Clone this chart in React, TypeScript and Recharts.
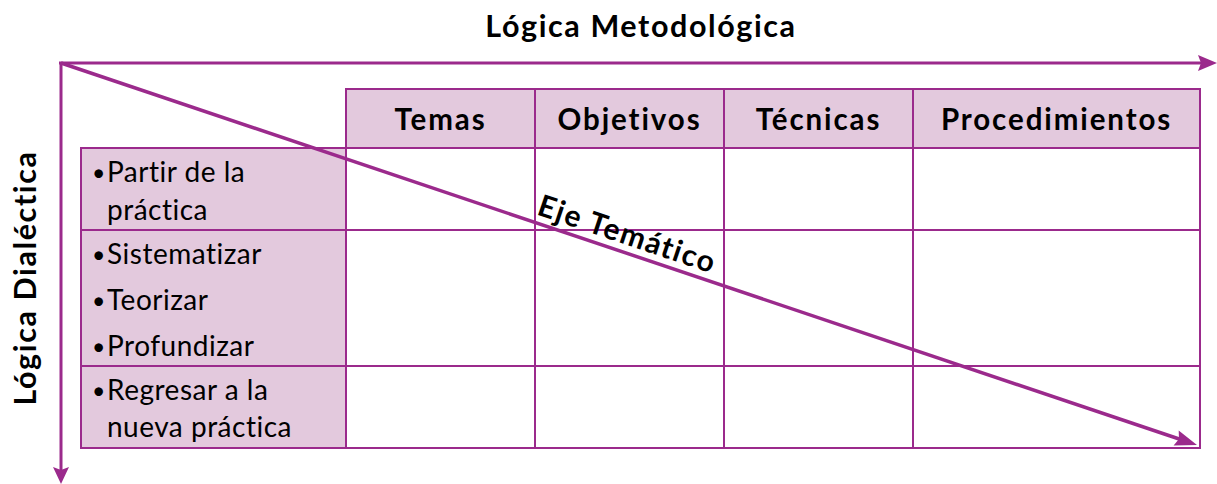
import { ComposedChart, XAxis, YAxis, ReferenceArea, ReferenceLine } from "recharts";

const topTitle = "Lógica Metodológica";
const sideTitle = "Lógica Dialéctica";
const diagonalTitle = "Eje Temático";
const columns = ["Temas", "Objetivos", "Técnicas", "Procedimientos"];
// each stage row: bullets, a bullet may wrap to a second line
const stages = [
  [["Partir de la", "práctica"]],
  [["Sistematizar"], ["Teorizar"], ["Profundizar"]],
  [["Regresar a la", "nueva práctica"]],
];

// layout (pixel space of the drawing)
const W = 1217;
const H = 484;
const colEdges = [81, 346, 535, 724, 913, 1200];
const rowEdges = [89, 148, 230, 366, 448];
const lineGap = [38, 46, 37];
const firstBaseline = 34;
const origin = { x: 61, y: 63 };
const diagEnd = { x: 1197, y: 445 };

const PURPLE = "#9b2a8c";
const FILL = "#e3c9dd";
const FONT = "Lato, 'Open Sans', sans-serif";

function arrowShape(len: number, half: number, width: number) {
  return (p: any) => {
    const { x1, y1, x2, y2 } = p;
    const dx = x2 - x1;
    const dy = y2 - y1;
    const d = Math.hypot(dx, dy) || 1;
    const ux = dx / d;
    const uy = dy / d;
    const bx = x2 - ux * len;
    const by = y2 - uy * len;
    const pts = [
      [x2, y2],
      [bx - uy * half, by + ux * half],
      [bx + ux * 3, by + uy * 3],
      [bx + uy * half, by - ux * half],
    ]
      .map((q) => q.join(","))
      .join(" ");
    return (
      <g>
        <line x1={x1} y1={y1} x2={bx + ux * 4} y2={by + uy * 4} stroke={PURPLE} strokeWidth={width} />
        <polygon points={pts} fill={PURPLE} />
      </g>
    );
  };
}

export default function App() {
  const slope = Math.atan2(diagEnd.y - origin.y, diagEnd.x - origin.x);
  const angle = (slope * 180) / Math.PI;

  return (
    <div style={{ position: "fixed", left: 0, top: 0, width: W, height: H, background: "#fff" }}>
      <ComposedChart width={W} height={H} margin={{ top: 0, right: 0, bottom: 0, left: 0 }}>
        <XAxis type="number" dataKey="x" domain={[0, W]} hide allowDataOverflow />
        <YAxis type="number" domain={[0, H]} reversed hide allowDataOverflow />

        {/* header cells */}
        {columns.map((name, i) => (
          <ReferenceArea
            key={name}
            x1={colEdges[i + 1]}
            x2={colEdges[i + 2]}
            y1={rowEdges[0]}
            y2={rowEdges[1]}
            fill={FILL}
            fillOpacity={1}
            stroke={PURPLE}
            strokeWidth={2}
            ifOverflow="visible"
            label={{
              content: (p: any) => {
                const vb = p.viewBox;
                return (
                  <text
                    x={vb.x + vb.width / 2}
                    y={vb.y + 41}
                    textAnchor="middle"
                    fontFamily={FONT}
                    fontWeight={700}
                    fontSize={29.5}
                    letterSpacing={1.9}
                    fill="#000"
                  >
                    {name}
                  </text>
                );
              },
            }}
          />
        ))}

        {/* stage cells + empty body cells */}
        {stages.map((stage, r) => (
          <ReferenceArea
            key={"s" + r}
            x1={colEdges[0]}
            x2={colEdges[1]}
            y1={rowEdges[r + 1]}
            y2={rowEdges[r + 2]}
            fill={FILL}
            fillOpacity={1}
            stroke={PURPLE}
            strokeWidth={2}
            ifOverflow="visible"
            label={{
              content: (p: any) => {
                const vb = p.viewBox;
                let n = 0;
                const out: any[] = [];
                stage.forEach((item, b) =>
                  item.forEach((line, k) => {
                    const y = vb.y + firstBaseline + lineGap[r] * n++;
                    out.push(
                      <g key={b + "-" + k}>
                        {k === 0 && (
                          <text x={vb.x + 11} y={y - 1} fontFamily={FONT} fontSize={23} fill="#000">
                            •
                          </text>
                        )}
                        <text
                          x={vb.x + 26}
                          y={y}
                          fontFamily={FONT}
                          fontSize={28}
                          letterSpacing={0.5}
                          fill="#000"
                        >
                          {line}
                        </text>
                      </g>
                    );
                  })
                );
                return <g>{out}</g>;
              },
            }}
          />
        ))}
        {stages.map((_, r) =>
          columns.map((c, i) => (
            <ReferenceArea
              key={"c" + r + c}
              x1={colEdges[i + 1]}
              x2={colEdges[i + 2]}
              y1={rowEdges[r + 1]}
              y2={rowEdges[r + 2]}
              fill="none"
              stroke={PURPLE}
              strokeWidth={2}
              ifOverflow="visible"
            />
          ))
        )}

        {/* axes arrows */}
        <ReferenceLine
          segment={[{ x: origin.x - 2, y: origin.y }, { x: W, y: origin.y }]}
          ifOverflow="visible"
          shape={arrowShape(19, 8, 3)}
        />
        <ReferenceLine
          segment={[{ x: origin.x, y: origin.y - 1 }, { x: origin.x, y: H }]}
          ifOverflow="visible"
          shape={arrowShape(17, 8, 3)}
        />
        <ReferenceLine
          segment={[origin, diagEnd]}
          ifOverflow="visible"
          shape={arrowShape(22, 8, 3.5)}
        />

        {/* titles */}
        <ReferenceArea
          x1={0}
          x2={W}
          y1={0}
          y2={origin.y}
          fill="none"
          stroke="none"
          ifOverflow="visible"
          label={{
            content: () => (
              <text
                x={641}
                y={37}
                textAnchor="middle"
                fontFamily={FONT}
                fontWeight={700}
                fontSize={30.5}
                letterSpacing={1.6}
                fill="#000"
              >
                {topTitle}
              </text>
            ),
          }}
        />
        <ReferenceArea
          x1={0}
          x2={origin.x}
          y1={origin.y}
          y2={H}
          fill="none"
          stroke="none"
          ifOverflow="visible"
          label={{
            content: () => (
              <text
                x={0}
                y={0}
                transform={`translate(36, 278) rotate(-90)`}
                textAnchor="middle"
                fontFamily={FONT}
                fontWeight={700}
                fontSize={30.5}
                letterSpacing={1.6}
                fill="#000"
              >
                {sideTitle}
              </text>
            ),
          }}
        />
        <ReferenceArea
          x1={origin.x}
          x2={diagEnd.x}
          y1={origin.y}
          y2={diagEnd.y}
          fill="none"
          stroke="none"
          ifOverflow="visible"
          label={{
            content: () => (
              <text
                x={0}
                y={0}
                transform={`translate(624, 244) rotate(${angle})`}
                textAnchor="middle"
                fontFamily={FONT}
                fontWeight={700}
                fontSize={30}
                letterSpacing={1.5}
                fill="#000"
              >
                {diagonalTitle}
              </text>
            ),
          }}
        />
      </ComposedChart>
    </div>
  );
}
